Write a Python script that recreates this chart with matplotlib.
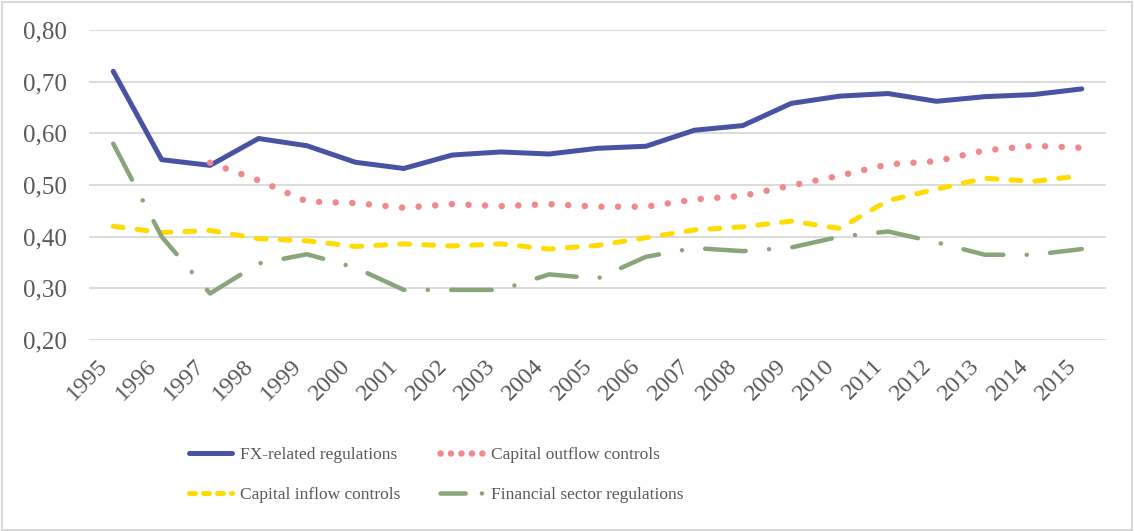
import matplotlib.pyplot as plt
from matplotlib.lines import Line2D
from matplotlib.patches import Rectangle
from matplotlib.ticker import FuncFormatter, MultipleLocator
import matplotlib.transforms as mtransforms

years = list(range(1995, 2016))

fx_related = [0.720, 0.549, 0.538, 0.590, 0.576, 0.544, 0.532, 0.558, 0.564, 0.560, 0.571,
              0.575, 0.606, 0.615, 0.658, 0.672, 0.677, 0.662, 0.671, 0.675, 0.686]
# outflow series starts in 1997
outflow_years = years[2:]
capital_outflow = [0.543, 0.509, 0.468, 0.465, 0.456, 0.463, 0.459, 0.463, 0.458,
                   0.458, 0.472, 0.479, 0.499, 0.518, 0.540, 0.546, 0.567, 0.576, 0.572]
capital_inflow = [0.420, 0.408, 0.412, 0.396, 0.392, 0.381, 0.386, 0.382, 0.386, 0.376, 0.383,
                  0.398, 0.413, 0.419, 0.430, 0.416, 0.470, 0.492, 0.513, 0.507, 0.518]
financial_sector = [0.580, 0.400, 0.290, 0.348, 0.366, 0.340, 0.297, 0.297, 0.297, 0.327, 0.319,
                    0.361, 0.378, 0.372, 0.379, 0.400, 0.410, 0.389, 0.365, 0.365, 0.376]

labels = ["FX-related regulations", "Capital outflow controls",
          "Capital inflow controls", "Financial sector regulations"]

plt.rcParams['font.family'] = ['Liberation Serif', 'DejaVu Serif']
text_grey = '#595959'
grid_grey = '#d9d9d9'
colors = ['#4a53a3', '#f0898c', '#ffdc00', '#8aa57a']

fig = plt.figure(figsize=(11.34, 5.31), dpi=100)
ax = fig.add_axes([0.0785, 0.3597, 0.8968, 0.5838])

px = 0.72  # points per pixel at 100 dpi
widths = [5 * px, 6.5 * px, 5 * px, 4.5 * px]
line_dashes = ['-', (0, (0.01, 2.55)), (0, (2.0, 2.8)), (0, (9.0, 5.2, 0.01, 5.2))]
# shorter patterns so each legend sample shows a full cycle
legend_dashes = ['-', (0, (0.01, 1.6)), (0, (1.2, 1.6)), (0, (5.6, 3.6, 0.01, 3.6))]

series = [(years, fx_related), (outflow_years, capital_outflow),
          (years, capital_inflow), (years, financial_sector)]
for (xs, ys), c, w, ls in zip(series, colors, widths, line_dashes):
    ax.plot(xs, ys, color=c, lw=w, linestyle=ls, solid_capstyle='round',
            solid_joinstyle='round', dash_capstyle='round')

ax.set_xlim(1994.5, 2015.5)
ax.set_ylim(0.2, 0.8)
ax.yaxis.set_major_locator(MultipleLocator(0.1))
ax.yaxis.set_major_formatter(FuncFormatter(lambda v, _: f"{v:.2f}".replace('.', ',')))
ax.set_xticks(years)
ax.set_xticklabels([str(y) for y in years], rotation=45, ha='right', va='top')

ax.grid(axis='y', color=grid_grey, lw=1.3)
ax.set_axisbelow(True)
for s in ax.spines.values():
    s.set_visible(False)
ax.tick_params(axis='both', length=0, colors=text_grey)
ax.tick_params(axis='y', pad=16, labelsize=18)
ax.tick_params(axis='x', pad=11, labelsize=17.5)
shift = mtransforms.ScaledTranslation(-1 / 100, 0, fig.dpi_scale_trans)
for lab in ax.get_xticklabels():
    lab.set_transform(lab.get_transform() + shift)

# legend fills column-wise, so order the entries to read row by row
order = [0, 2, 1, 3]
handles = [Line2D([], [], color=colors[i], lw=widths[i], linestyle=legend_dashes[i],
                  solid_capstyle='round', dash_capstyle='round') for i in order]
leg = fig.legend(handles, [labels[i] for i in order], ncol=2, loc='center',
                 bbox_to_anchor=(0.3845, 0.1055), frameon=False, fontsize=12.5,
                 handlelength=2.47, handletextpad=0.46, columnspacing=2.3,
                 labelspacing=1.35)
for t in leg.get_texts():
    t.set_color(text_grey)

fig.patches.append(Rectangle((0.0015, 0.002), 0.997, 0.995, transform=fig.transFigure,
                             fill=False, edgecolor=grid_grey, lw=1.5))

fig.savefig('out.png', dpi=100)
